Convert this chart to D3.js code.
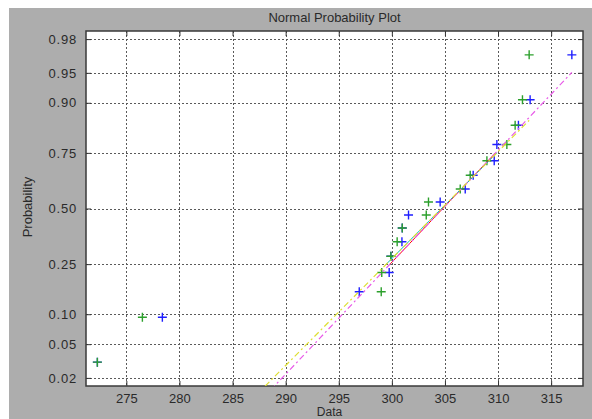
<!DOCTYPE html>
<html><head><meta charset="utf-8">
<script src="https://cdn.jsdelivr.net/npm/d3@7/dist/d3.min.js"></script>
<style>
body{margin:0;background:#fff}
svg{display:block}
text{font-family:"Liberation Sans",Arial,sans-serif;fill:#2a2a2a}
</style>
</head><body>
<svg id="c" width="592" height="419"></svg>
<script>
// ---- data ----
const title = "Normal Probability Plot";
const xLabel = "Data";
const yLabel = "Probability";
// column 1 (blue), sorted
const seriesBlue = [272.27, 278.39, 296.93, 299.75, 299.91, 300.95, 300.98, 301.57,
                    304.55, 306.91, 307.66, 309.64, 309.89, 311.92, 313.02, 316.95];
// column 2 (green), sorted
const seriesGreen = [272.27, 276.51, 299.00, 299.05, 299.91, 300.50, 300.98, 303.24,
                     303.45, 306.44, 307.38, 308.95, 310.83, 311.61, 312.30, 312.93];
// plotting-position probabilities for the 16 ordered points
const plotProbs = [0.03125, 0.09375, 0.15625, 0.21875, 0.28125, 0.34375, 0.40625, 0.46875,
                   0.53125, 0.59375, 0.65625, 0.71875, 0.78125, 0.84375, 0.90625, 0.96875];
const probTicks = [0.02, 0.05, 0.10, 0.25, 0.50, 0.75, 0.90, 0.95, 0.98];
const probTickLabels = ["0.02", "0.05", "0.10", "0.25", "0.50", "0.75", "0.90", "0.95", "0.98"];
const xTicks = [275, 280, 285, 290, 295, 300, 305, 310, 315];
const xDomain = [271.2, 318.0];
const zDomain = [-2.152, 2.152];

// ---- helpers ----
function norminv(p) {
  const a=[-3.969683028665376e+01,2.209460984245205e+02,-2.759285104469687e+02,1.383577518672690e+02,-3.066479806614716e+01,2.506628277459239e+00];
  const b=[-5.447609879822406e+01,1.615858368580409e+02,-1.556989798598866e+02,6.680131188771972e+01,-1.328068155288572e+01];
  const c=[-7.784894002430293e-03,-3.223964580411365e-01,-2.400758277161838e+00,-2.549732539343734e+00,4.374664141464968e+00,2.938163982698783e+00];
  const d=[7.784695709041462e-03,3.224671290700398e-01,2.445134137142996e+00,3.754408661907416e+00];
  const pl=0.02425, ph=1-pl; let q,r;
  if (p<pl){q=Math.sqrt(-2*Math.log(p));return (((((c[0]*q+c[1])*q+c[2])*q+c[3])*q+c[4])*q+c[5])/((((d[0]*q+d[1])*q+d[2])*q+d[3])*q+1);}
  if (p<=ph){q=p-0.5;r=q*q;return (((((a[0]*r+a[1])*r+a[2])*r+a[3])*r+a[4])*r+a[5])*q/(((((b[0]*r+b[1])*r+b[2])*r+b[3])*r+b[4])*r+1);}
  q=Math.sqrt(-2*Math.log(1-p));return -(((((c[0]*q+c[1])*q+c[2])*q+c[3])*q+c[4])*q+c[5])/((((d[0]*q+d[1])*q+d[2])*q+d[3])*q+1);
}
function prctileM(sorted, p) {
  const n = sorted.length, pos = p*n + 0.5;
  const i = Math.floor(pos), f = pos - i;
  if (i < 1) return sorted[0];
  if (i >= n) return sorted[n-1];
  return sorted[i-1] + f*(sorted[i]-sorted[i-1]);
}

// ---- layout ----
const svg = d3.select("#c");
const L = 86, T = 31, R = 583, B = 386;
svg.append("rect").attr("x",9).attr("y",8).attr("width",592-9).attr("height",419-8).attr("fill","#adadad");
svg.append("rect").attr("x",L).attr("y",T).attr("width",R-L).attr("height",B-T).attr("fill","#fff");

const x = d3.scaleLinear().domain(xDomain).range([L, R]);
const y = d3.scaleLinear().domain(zDomain).range([B, T]);
const yProb = p => y(norminv(p));

svg.append("defs").append("clipPath").attr("id","clip")
  .append("rect").attr("x",L).attr("y",T).attr("width",R-L).attr("height",B-T);

// grid
const grid = svg.append("g").attr("stroke","#5a5a5a").attr("stroke-width",1).attr("stroke-dasharray","2,2");
grid.selectAll("line.gx").data(xTicks).join("line")
  .attr("x1",d=>Math.round(x(d))+0.5).attr("x2",d=>Math.round(x(d))+0.5).attr("y1",T).attr("y2",B);
grid.selectAll("line.gy").data(probTicks).join("line")
  .attr("y1",d=>Math.round(yProb(d))+0.5).attr("y2",d=>Math.round(yProb(d))+0.5).attr("x1",L).attr("x2",R);

// axes via d3 axis generators
const xAxisB = d3.axisBottom(x).tickValues(xTicks).tickSize(-5).tickPadding(5).tickFormat(d3.format("d"));
const xAxisT = d3.axisTop(x).tickValues(xTicks).tickSize(-5).tickFormat("");
const yAxisL = d3.axisLeft(y).tickValues(probTicks.map(norminv)).tickSize(-5).tickPadding(9)
  .tickFormat((d,i)=>probTickLabels[i]);
const yAxisR = d3.axisRight(y).tickValues(probTicks.map(norminv)).tickSize(-5).tickFormat("");

function styleAxis(g){
  g.select(".domain").remove();
  g.selectAll("line").attr("stroke","#333");
  g.selectAll("text").attr("fill","#333").style("font-size","13px")
   .style("font-family","'Liberation Sans',Arial,sans-serif");
}
svg.append("g").attr("transform",`translate(0,${B})`).call(xAxisB).call(styleAxis)
  .selectAll("text").attr("dy","0.9em");
svg.append("g").attr("transform",`translate(0,${T})`).call(xAxisT).call(styleAxis);
svg.append("g").attr("transform",`translate(${L},0)`).call(yAxisL).call(styleAxis)
  .selectAll("text").style("letter-spacing","0.8px");
svg.append("g").attr("transform",`translate(${R},0)`).call(yAxisR).call(styleAxis);

// box
svg.append("rect").attr("x",L).attr("y",T).attr("width",R-L).attr("height",B-T)
  .attr("fill","none").attr("stroke","#3a3a3a").attr("stroke-width",1.5);

// data markers
const plotArea = svg.append("g").attr("clip-path","url(#clip)");
const cross = "M-4.5,0H4.5M0,-4.5V4.5";
const seriesList = [
  {data: seriesBlue, marker: "#1e1eff", fitColor: "#ff0000", extColor: "#e85ae8"},
  {data: seriesGreen, marker: "#2ca02c", fitColor: "#00bfbf", extColor: "#dede30"}
];
seriesList.forEach(s => {
  plotArea.append("g").selectAll("path").data(s.data).join("path")
    .attr("d", cross)
    .attr("transform",(d,i)=>`translate(${x(d)},${yProb(plotProbs[i])})`)
    .attr("stroke", s.marker).attr("stroke-width",1.4).attr("fill","none");
});
// fitted lines (quartile line + extended dash-dot line) like normplot
seriesList.forEach(s => {
  const q1x = prctileM(s.data,0.25), q3x = prctileM(s.data,0.75);
  const q1y = norminv(0.25), q3y = norminv(0.75);
  s.fit = [[q1x,q1y],[q3x,q3y]];
  const slope = (q3y-q1y)/(q3x-q1x), cx = (q1x+q3x)/2, cy = (q1y+q3y)/2;
  const mn = d3.min(s.data), mx = d3.max(s.data);
  s.ext = [[mn, cy+slope*(mn-cx)],[mx, cy+slope*(mx-cx)]];
});
const line = d3.line().x(d=>x(d[0])).y(d=>y(d[1]));
seriesList.forEach(s => {
  plotArea.append("path").attr("d",line(s.fit)).attr("stroke",s.fitColor)
    .attr("stroke-width",1).attr("fill","none");
});
seriesList.forEach(s => {
  plotArea.append("path").attr("d",line(s.ext)).attr("stroke",s.extColor)
    .attr("stroke-width",1.2).attr("fill","none").attr("stroke-dasharray","6,3,2,3");
});

// titles
svg.append("text").attr("x",(L+R)/2).attr("y",22).attr("text-anchor","middle")
  .style("font-size","13px").text(title);
svg.append("text").attr("x",(L+R)/2-5).attr("y",416).attr("text-anchor","middle")
  .style("font-size","12px").text(xLabel);
svg.append("text").attr("transform","translate(32,207) rotate(-90)").attr("text-anchor","middle")
  .style("font-size","13px").text(yLabel);
</script>
</body></html>
